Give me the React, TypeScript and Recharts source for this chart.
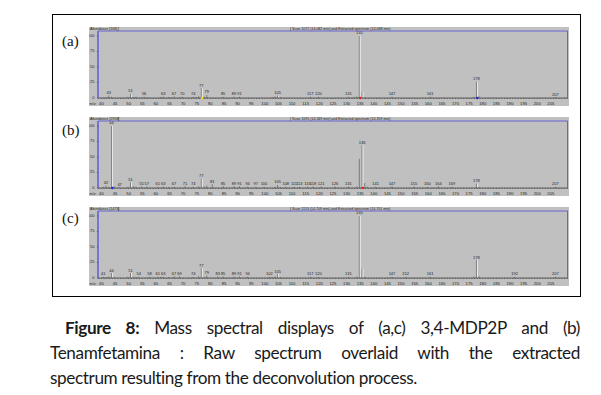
import React from 'react';
import { ComposedChart, Bar, XAxis, YAxis, LabelList, ReferenceDot } from 'recharts';

// ---------- Panel (a): 3,4-MDP2P ----------
const A_MZ = [41, 42, 43, 44, 50, 51, 52, 53, 55, 56, 57, 62, 63, 65, 66, 67, 69, 70, 74, 75, 76, 77, 78, 79, 85, 89, 91, 103, 104, 105, 106, 117, 120, 131, 133, 134, 135, 136, 137, 147, 161, 177, 178, 179, 207];
const A_INT = [1, 1.5, 4, 2, 2, 6.5, 1.5, 2, 1, 2, 1, 1.5, 2.5, 1.5, 1, 2.5, 1, 2, 2, 1.5, 3, 16, 2, 5, 2, 2, 2, 1.5, 2.5, 4, 1.5, 2, 2, 2, 1.5, 2.5, 100, 10, 1.5, 2, 2, 2, 26, 3, 1.5];
const A_LABELS = [43, 51, 56, 63, 67, 70, 74, 77, 79, 85, 89, 91, 105, 117, 120, 131, 135, 147, 161, 178, 207];
const A_EXT_MZ = [51, 77, 105, 135, 136, 178];
const A_EXT_INT = [6, 16, 4, 100, 10, 26];

// ---------- Panel (b): Tenamfetamina ----------
const B_MZ = [39, 41, 42, 43, 44, 45, 47, 50, 51, 52, 53, 55, 57, 61, 63, 65, 67, 71, 74, 76, 77, 78, 79, 81, 85, 89, 91, 94, 97, 100, 104, 105, 106, 108, 111, 113, 116, 118, 121, 126, 131, 134, 135, 136, 137, 138, 141, 147, 155, 160, 164, 169, 178, 179, 207];
const B_INT = [1, 2, 4, 2, 100, 3, 1.5, 2, 9, 3, 2, 2.5, 2.5, 2, 2.5, 1.5, 2, 3, 2, 3, 15, 3, 4, 6, 3, 3, 3, 2, 2, 2, 2, 5, 1.5, 2, 2, 2, 2, 2.5, 2.5, 3, 3, 2, 47, 69, 8, 2, 2, 3, 2.5, 2, 3, 2, 7, 1.5, 2];
const B_LABELS = [42, 44, 47, 51, 55, 57, 61, 63, 67, 71, 74, 77, 81, 85, 89, 91, 94, 97, 100, 105, 108, 111, 113, 116, 118, 121, 126, 131, 136, 141, 147, 155, 160, 164, 169, 178, 207];
const B_EXT_MZ = [44, 51, 77, 136, 178];
const B_EXT_INT = [100, 9, 15, 69, 7];

// ---------- Panel (c): 3,4-MDP2P ----------
const C_MZ = [39, 41, 42, 43, 44, 45, 50, 51, 52, 53, 54, 57, 58, 61, 62, 63, 65, 67, 69, 74, 76, 77, 78, 79, 83, 85, 89, 91, 94, 102, 103, 104, 105, 106, 117, 120, 131, 134, 135, 136, 137, 147, 152, 161, 177, 178, 179, 192, 207];
const C_INT = [1, 2, 1.5, 2.5, 8, 1.5, 2, 8, 2, 1.5, 2, 1, 2, 2, 1.5, 2, 1.5, 3, 3, 2, 3, 16, 2, 4, 2.5, 2.5, 2.5, 2.5, 2, 2, 1.5, 2.5, 6, 1.5, 2, 2, 2, 2, 100, 15, 2, 2, 2, 2, 2, 29, 3, 2, 2];
const C_LABELS = [41, 44, 51, 54, 58, 61, 63, 67, 69, 74, 77, 79, 83, 85, 89, 91, 94, 102, 105, 117, 120, 131, 135, 147, 152, 161, 178, 192, 207];
const C_EXT_MZ = [44, 51, 77, 105, 135, 136, 178];
const C_EXT_INT = [8, 8, 16, 6, 100, 15, 29];

const Y_TICKS = [0, 25, 50, 75, 100];
const X_MIN = 38.75;
const X_MAX = 211.3;
const X_TICKS: number[] = [];
for (let v = 39; v <= 211; v++) X_TICKS.push(v);

const PURPLE = '#6464d2';
const BG = '#c0c0c0';

function buildData(mz: number[], ints: number[], labels: number[], extMz: number[], extInt: number[]) {
  return mz.map((m, i) => {
    const ei = extMz.indexOf(m);
    return {
      mz: m,
      raw: ints[i],
      ext: ei >= 0 ? extInt[ei] : null,
      lab: labels.includes(m) ? String(m) : null,
    };
  });
}

const XTick = (props: any) => {
  const { x, y, payload } = props;
  const v = payload.value;
  if (v % 5 !== 0 || v < 40 || v > 205) return null;
  return (
    <text x={x} y={y + 4.2} fontSize={4.2} textAnchor="middle" fill="#222" fontFamily="Liberation Sans">
      {v}
    </text>
  );
};

const YTick = (props: any) => {
  const { x, y, payload } = props;
  return (
    <text x={x - 0.5} y={y + 1} fontSize={4} textAnchor="end" fill="#222" fontFamily="Liberation Sans">
      {payload.value}
    </text>
  );
};

type PanelProps = {
  top: number;
  data: any[];
  abundance: string;
  scan: string;
  dots: { x: number; color: string }[];
};

const W = 480;
const H = 79;

function Panel({ top, data, abundance, scan, dots }: PanelProps) {
  return (
    <div style={{ position: 'absolute', left: 89, top, width: W, height: H, background: BG }}>
      <ComposedChart
        width={W}
        height={H}
        data={data}
        margin={{ top: 4, right: 1, bottom: 0, left: 0 }}
        barGap={0}
      >
        <XAxis
          dataKey="mz"
          type="number"
          domain={[X_MIN, X_MAX]}
          ticks={X_TICKS}
          interval={0}
          allowDataOverflow
          height={8}
          tick={<XTick />}
          tickSize={1}
          tickLine={{ stroke: '#333', strokeWidth: 0.6 }}
          axisLine={{ stroke: '#444', strokeWidth: 0.8 }}
        />
        <YAxis
          type="number"
          domain={[0, 108]}
          ticks={Y_TICKS}
          interval={0}
          width={9}
          tick={<YTick />}
          tickSize={1}
          tickLine={{ stroke: '#333', strokeWidth: 0.6 }}
          axisLine={{ stroke: PURPLE, strokeWidth: 1.6 }}
          allowDataOverflow
        />
        <Bar dataKey="raw" fill="#7a7a7a" barSize={1} isAnimationActive={false}>
          <LabelList dataKey="lab" position="top" offset={1.5} fontSize={4} fill="#222" fontFamily="Liberation Sans" />
        </Bar>
        <Bar dataKey="ext" fill="#ebebeb" barSize={1} isAnimationActive={false} />
        {dots.map((d, i) => (
          <ReferenceDot key={i} x={d.x} y={0} r={1.2} fill={d.color} stroke="none" ifOverflow="visible" />
        ))}
      </ComposedChart>
      <svg
        width={W}
        height={H}
        style={{ position: 'absolute', left: 0, top: 0, pointerEvents: 'none' }}
      >
        <line x1={9} y1={4} x2={479} y2={4} stroke={PURPLE} strokeWidth={1} />
        <line x1={478.5} y1={4} x2={478.5} y2={71} stroke={PURPLE} strokeWidth={1} />
        <line x1={29.5} y1={0} x2={29.5} y2={4} stroke="#555" strokeWidth={0.5} />
        <text x={1} y={3.2} fontSize={3.6} fill="#222" fontFamily="Liberation Sans">
          {abundance}
        </text>
        <line x1={201.5} y1={0} x2={201.5} y2={4} stroke="#555" strokeWidth={0.5} />
        <text x={203} y={3.2} fontSize={3.6} fill="#222" fontFamily="Liberation Sans">
          {scan}
        </text>
        <text x={0.5} y={77.5} fontSize={3.8} fill="#222" fontFamily="Liberation Sans">
          m/z:
        </text>
      </svg>
    </div>
  );
}

const DATA_A = buildData(A_MZ, A_INT, A_LABELS, A_EXT_MZ, A_EXT_INT);
const DATA_B = buildData(B_MZ, B_INT, B_LABELS, B_EXT_MZ, B_EXT_INT);
const DATA_C = buildData(C_MZ, C_INT, C_LABELS, C_EXT_MZ, C_EXT_INT);

const panelLabel = (text: string, top: number) => (
  <div
    style={{
      position: 'absolute',
      left: 62,
      top,
      fontFamily: '"Liberation Serif", serif',
      fontSize: 15,
      lineHeight: '16px',
      color: '#111',
    }}
  >
    {text}
  </div>
);

const captionFont = 'Lato, "Open Sans", sans-serif';

export default function App() {
  return (
    <div
      style={{
        position: 'absolute',
        left: 0,
        top: 0,
        width: 601,
        height: 395,
        background: '#fff',
        overflow: 'hidden',
      }}
    >
      <div
        style={{
          position: 'absolute',
          left: 52,
          top: 14,
          width: 529,
          height: 283,
          border: '1px solid #000',
          boxSizing: 'border-box',
        }}
      />
      {panelLabel('(a)', 33)}
      {panelLabel('(b)', 122)}
      {panelLabel('(c)', 210)}
      <Panel
        top={27}
        data={DATA_A}
        abundance="Abundance [168]"
        scan="Scan 1072 (14.082 min) and  Extracted spectrum (14.088 min)"
        dots={[
          { x: 77, color: '#f0e020' },
          { x: 135, color: '#e02020' },
          { x: 178, color: '#2020e0' },
        ]}
      />
      <Panel
        top={117}
        data={DATA_B}
        abundance="Abundance [2958]"
        scan="Scan 1095 (14.349 min) and  Extracted spectrum (14.359 min)"
        dots={[
          { x: 44, color: '#2020e0' },
          { x: 136, color: '#e02020' },
        ]}
      />
      <Panel
        top={207}
        data={DATA_C}
        abundance="Abundance [1473]"
        scan="Scan 1153 (14.709 min) and  Extracted spectrum (14.701 min)"
        dots={[]}
      />
      <div
        style={{
          position: 'absolute',
          left: 50,
          top: 315,
          width: 530,
          fontFamily: captionFont,
          fontSize: 17.2,
          letterSpacing: '-0.4px',
          lineHeight: '25px',
          color: '#1a1a1a',
        }}
      >
        <div style={{ textAlign: 'justify', textAlignLast: 'justify', paddingLeft: 15 } as any}>
          <b>Figure 8:</b> Mass spectral displays of (a,c) 3,4-MDP2P and (b)
        </div>
        <div style={{ textAlign: 'justify', textAlignLast: 'justify' } as any}>
          Tenamfetamina : Raw spectrum overlaid with the extracted
        </div>
        <div style={{ textAlign: 'left' }}>spectrum resulting from the deconvolution process.</div>
      </div>
    </div>
  );
}
